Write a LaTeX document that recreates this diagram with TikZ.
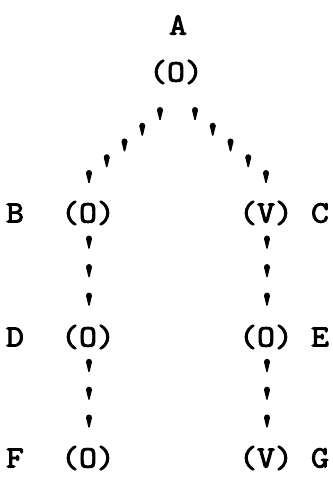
\documentclass[tikz,border=0pt]{standalone}
\usepackage{fontspec}
\newfontfamily\typew[FakeStretch=1.12,FakeBold=3]{Latin Modern Mono}
\usetikzlibrary{decorations.markings,calc}

% one typed apostrophe-like tick, kept upright whatever the path direction
\newcommand\tickmark{%
  \pgftransformresetnontranslations
  \fill (0,-3) circle (3);
  \fill (-2.9,-2.6) -- (-0.6,7) -- (0.6,7) -- (2.9,-2.6) -- cycle;}

\tikzset{
  txt/.style={inner sep=0pt, font=\fontsize{31}{31}\typew},
  tickrun/.style={decorate, decoration={markings,
      mark=between positions 0 and 1.01 step #1 with {\tickmark}}},
  tickcol/.style={decorate, decoration={markings,
      mark=between positions 0.23 and 0.7 step 0.23 with {\tickmark}}}
}

\begin{document}
\begin{tikzpicture}[x=1pt,y=-1pt]
  \useasboundingbox (0,0) rectangle (332,481);

  % labels and values
  \node[txt] (lA) at (178,25) {A};
  \node[txt] (a)  at (176,72) {(O)};

  \node[txt] (lB) at (15,213)  {B};
  \node[txt] (b)  at (88,213)  {(O)};
  \node[txt] (c)  at (266,213) {(V)};
  \node[txt] (lC) at (320,213) {C};

  \node[txt] (lD) at (15,337)  {D};
  \node[txt] (d)  at (88,337)  {(O)};
  \node[txt] (e)  at (266,337) {(O)};
  \node[txt] (lE) at (320,337) {E};

  \node[txt] (lF) at (15,458)  {F};
  \node[txt] (f)  at (88,458)  {(O)};
  \node[txt] (g)  at (266,458) {(V)};
  \node[txt] (lG) at (320,458) {G};

  % ends of the slanted tick runs below the root
  \coordinate (a-l) at ($(a)+(-16,41)$);
  \coordinate (b-t) at ($(b)+(1,-37)$);
  \coordinate (a-r) at ($(a)+(19,41)$);
  \coordinate (c-t) at ($(c)+(0,-37)$);

  % branches
  \path[tickrun=0.25] (a-l) -- (b-t);
  \path[tickrun=0.25] (a-r) -- (c-t);
  \path[tickcol] ($(b)+(1,0)$) -- ($(d)+(1,0)$);
  \path[tickcol] ($(d)+(1,0)$) -- ($(f)+(1,0)$);
  \path[tickcol] ($(c)+(1,0)$) -- ($(e)+(1,0)$);
  \path[tickcol] ($(e)+(1,0)$) -- ($(g)+(1,0)$);
\end{tikzpicture}
\end{document}
